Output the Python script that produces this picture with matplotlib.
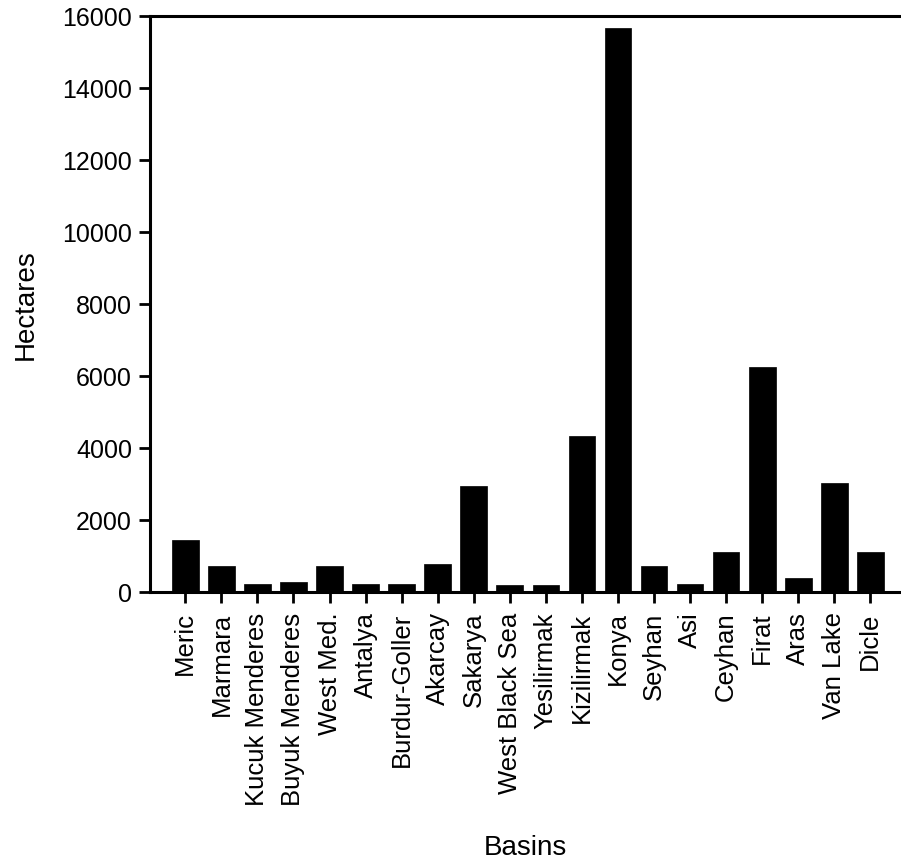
import numpy as np
import matplotlib.pyplot as plt

plt.rcParams["font.family"] = ["Liberation Sans", "DejaVu Sans"]

basins = [
    "Meric", "Marmara", "Kucuk Menderes", "Buyuk Menderes", "West Med.",
    "Antalya", "Burdur-Goller", "Akarcay", "Sakarya", "West Black Sea",
    "Yesilirmak", "Kizilirmak", "Konya", "Seyhan", "Asi",
    "Ceyhan", "Firat", "Aras", "Van Lake", "Dicle",
]
hectares = [
    1440, 735, 235, 290, 735,
    235, 235, 790, 2940, 190,
    195, 4330, 15660, 720, 220,
    1120, 6240, 380, 3020, 1120,
]

fig = plt.figure(figsize=(9.01, 8.62), dpi=100)
ax = fig.add_axes([150 / 901, 1 - 593 / 862, 751 / 901, 576 / 862])

x = np.arange(len(basins))
ax.bar(x, hectares, width=0.74, color="black", edgecolor="black", linewidth=0.5)

ax.set_xlim(-0.98, 19.85)
ax.set_ylim(0, 16000)
ax.set_yticks(np.arange(0, 16001, 2000))
ax.set_xticks(x)
ax.set_xticklabels(basins, rotation=90, fontsize=18.5)
ax.tick_params(axis="y", labelsize=18, length=8, width=2, direction="out", pad=5)
ax.tick_params(axis="x", length=8, width=2, direction="out", pad=6)

for side in ("left", "top", "bottom"):
    ax.spines[side].set_linewidth(2.2)
ax.spines["right"].set_visible(False)

ax.set_ylabel("Hectares", fontsize=20, va="center")
ax.yaxis.set_label_coords(-0.166, 0.5)
ax.set_xlabel("Basins", fontsize=20, va="center")
ax.xaxis.set_label_coords(0.5, -0.442)

fig.savefig("out.png", dpi=100)
